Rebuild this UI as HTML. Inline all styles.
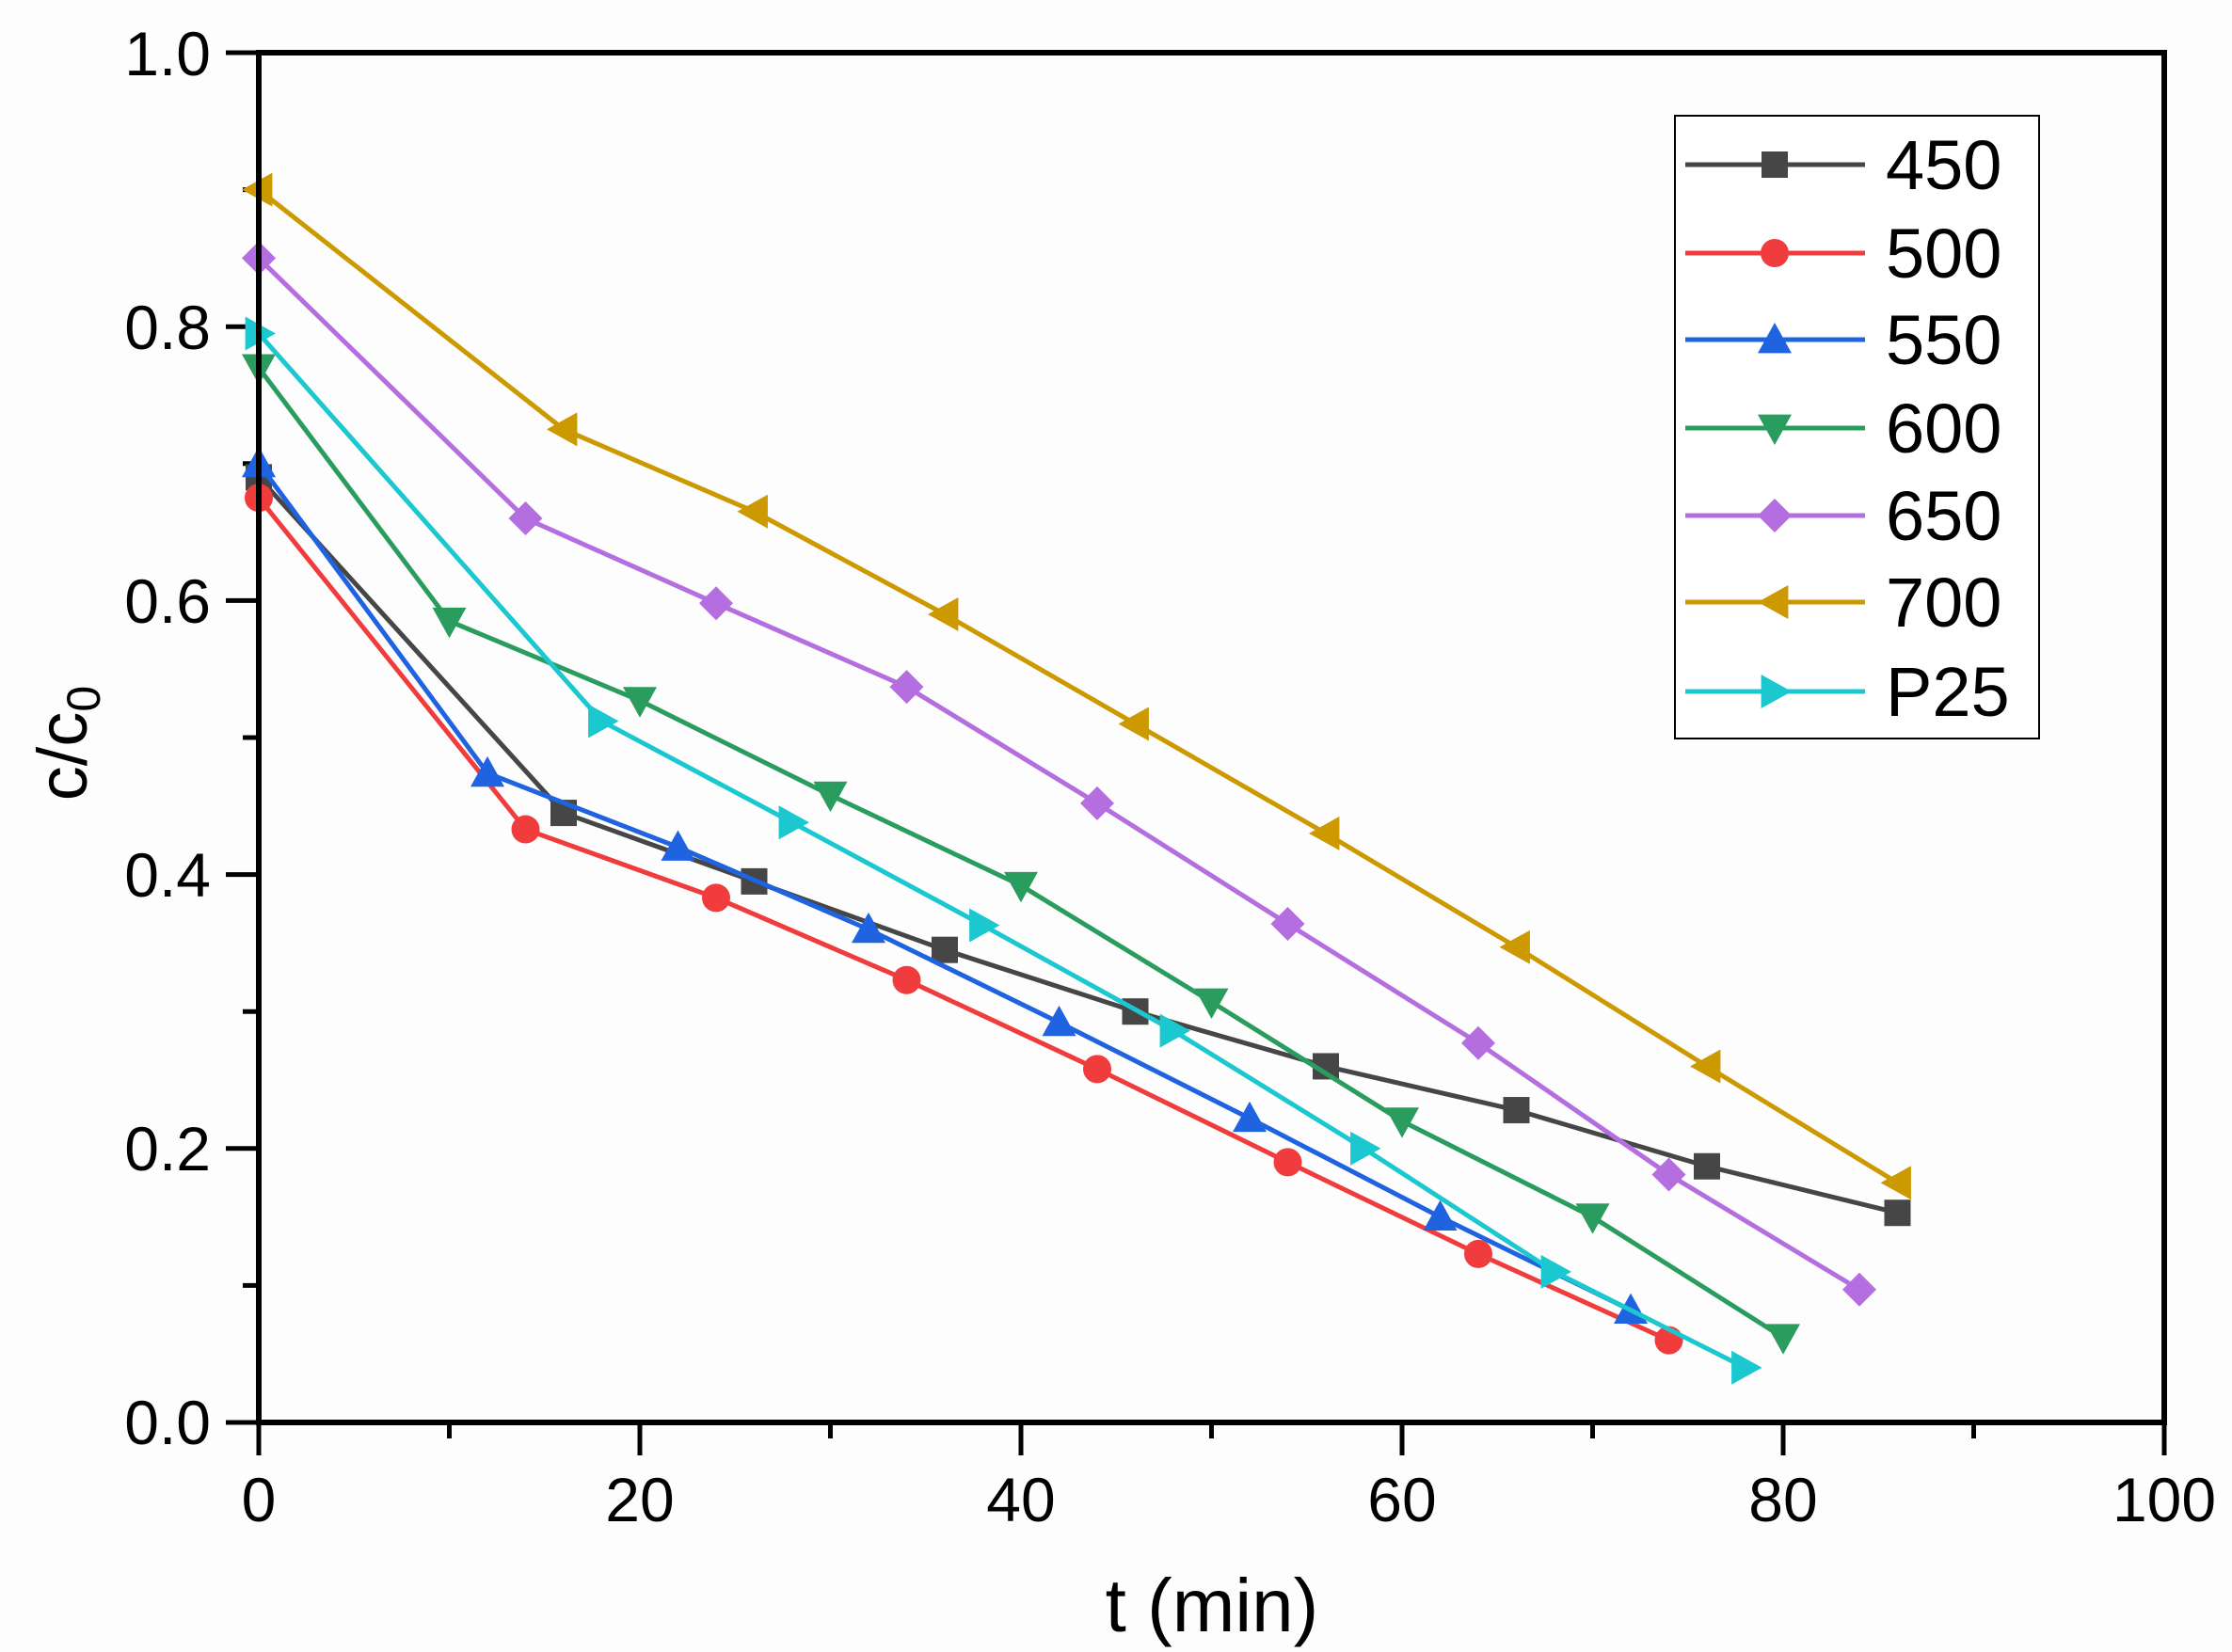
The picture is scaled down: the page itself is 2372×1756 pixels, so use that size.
<!DOCTYPE html>
<html><head><meta charset="utf-8"><style>
html,body{margin:0;padding:0;background:#fdfdfd;}
svg{display:block;}
text{font-family:"Liberation Sans",Arial,sans-serif;fill:#000;}
</style></head><body>
<svg id="s" width="2372" height="1756" viewBox="0 0 2372 1756" xmlns="http://www.w3.org/2000/svg">
<rect width="2372" height="1756" fill="#fdfdfd"/>
<g id="ticks" stroke="#000" stroke-width="5"></g>
<g id="series"></g>
<rect x="275" y="56" width="2025" height="1456" fill="none" stroke="#000" stroke-width="6"/>
<g font-size="66" text-anchor="end">
<text x="224" y="80">1.0</text>
<text x="224" y="371">0.8</text>
<text x="224" y="662">0.6</text>
<text x="224" y="953">0.4</text>
<text x="224" y="1244">0.2</text>
<text x="224" y="1535">0.0</text>
</g>
<g font-size="66" text-anchor="middle">
<text x="275" y="1617">0</text>
<text x="680" y="1617">20</text>
<text x="1085" y="1617">40</text>
<text x="1490" y="1617">60</text>
<text x="1895" y="1617">80</text>
<text x="2300" y="1617">100</text>
</g>
<text x="1288" y="1734" font-size="80" text-anchor="middle">t (min)</text>
<text transform="translate(92,790) rotate(-90)" font-size="74" text-anchor="middle">c/c<tspan font-size="50" dy="14">0</tspan></text>
<rect x="1780" y="123" width="387" height="662" fill="#fff" stroke="#000" stroke-width="2"/>
<g id="legend"></g>
<g font-size="74">
<text x="2004" y="201">450</text>
<text x="2004" y="295">500</text>
<text x="2004" y="387">550</text>
<text x="2004" y="481">600</text>
<text x="2004" y="574">650</text>
<text x="2004" y="666">700</text>
<text x="2004" y="761">P25</text>
</g>
</svg>
<script>
var X=t=>275+20.25*t, Y=v=>1512-1456*v, NS="http://www.w3.org/2000/svg";
function el(p,n,a){var e=document.createElementNS(NS,n);for(var k in a)e.setAttribute(k,a[k]);p.appendChild(e);return e;}
var tk=document.getElementById('ticks');
for(var i=0;i<=10;i++){var x=275+202.5*i;el(tk,'line',{x1:x,y1:1512,x2:x,y2:i%2?1529:1547});
 var y=1512-145.6*i;el(tk,'line',{x1:275,y1:y,x2:i%2?258:240,y2:y});}
var S=[
["#464646","sq",[[0,.69],[16,.445],[26,.395],[36,.345],[46,.30],[56,.26],[66,.228],[76,.187],[86,.153]]],
["#f03c3c","ci",[[0,.675],[14,.433],[24,.383],[34,.323],[44,.258],[54,.19],[64,.123],[74,.06]]],
["#1f63e0","up",[[0,.70],[12,.474],[22,.42],[32,.36],[42,.292],[52,.222],[62,.15],[72,.082]]],
["#2a9d5e","dn",[[0,.77],[10,.585],[20,.527],[30,.458],[40,.392],[50,.307],[60,.22],[70,.15],[80,.062]]],
["#b46ee0","di",[[0,.85],[14,.66],[24,.598],[34,.537],[44,.452],[54,.364],[64,.277],[74,.181],[84,.097]]],
["#cc9900","lf",[[0,.90],[16,.725],[26,.665],[36,.59],[46,.51],[56,.43],[66,.347],[76,.26],[86,.175]]],
["#1cc8d0","rt",[[0,.795],[18,.512],[28,.438],[38,.363],[48,.286],[58,.20],[68,.11],[78,.04]]]];
function mk(g,t,x,y,c){var r=14;
 if(t=="sq")el(g,'rect',{x:x-r,y:y-r,width:2*r,height:2*r,fill:c});
 else if(t=="ci")el(g,'circle',{cx:x,cy:y,r:r+1,fill:c});
 else{var p;r=18;
 if(t=="up")p=[[x,y-r],[x+r,y+r*.8],[x-r,y+r*.8]];
 if(t=="dn")p=[[x,y+r],[x+r,y-r*.8],[x-r,y-r*.8]];
 if(t=="lf")p=[[x-r,y],[x+r*.8,y-r],[x+r*.8,y+r]];
 if(t=="rt")p=[[x+r,y],[x-r*.8,y-r],[x-r*.8,y+r]];
 if(t=="di")p=[[x,y-r],[x+r,y],[x,y+r],[x-r,y]];
 el(g,'polygon',{points:p.map(q=>q.join(',')).join(' '),fill:c});}}
var sg=document.getElementById('series'),lg=document.getElementById('legend');
var ly=[175,269,361,455,548,640,735];
S.forEach(function(s,i){
 el(sg,'polyline',{points:s[2].map(p=>X(p[0])+','+Y(p[1])).join(' '),fill:'none',stroke:s[0],'stroke-width':5});
 s[2].forEach(p=>mk(sg,s[1],X(p[0]),Y(p[1]),s[0]));
 el(lg,'line',{x1:1791,y1:ly[i],x2:1982,y2:ly[i],stroke:s[0],'stroke-width':5});
 mk(lg,s[1],1886,ly[i],s[0]);
});
</script>
</body></html>
